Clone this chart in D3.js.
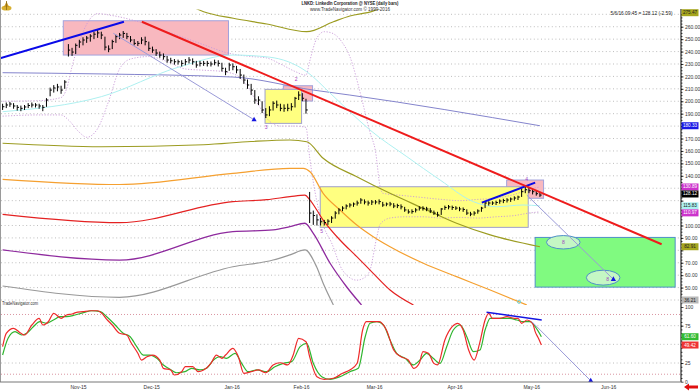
<!DOCTYPE html>
<html><head><meta charset="utf-8">
<script src="https://cdn.jsdelivr.net/npm/d3@7"></script>
<style>body{margin:0;background:#fff}svg{display:block}text{font-family:"Liberation Sans",Arial,sans-serif}</style>
</head><body><svg id="c" width="700" height="391"></svg>
<script>
// ---------- DATA ----------
const closes = [195.6,197,197.8,196.2,195.1,194.3,195.4,196.6,197,197,
196.2,195.1,201,209,210.7,211.5,209,215.5,241.2,239.6,
245,247.7,249.3,250.9,252.5,254,255,253.3,243.6,242,
248,252,253.3,254.6,252,249.3,246.6,246.6,249.3,248,
242.6,241.2,238.8,237.2,235.9,233.2,232.6,231.8,231.8,230.5,
231.8,233.2,231.8,229.2,230.5,230.5,230.5,230,231,230.5,
226.5,223.8,229.2,227.8,225.2,221.1,217.1,213.1,209,201,
201,193,189,193,198.4,197,194.3,194.3,194.3,195.6,
202.4,205,202.4,193,110,108,104.5,103,102.4,103.5,
106,110,112.5,114,115.7,116.5,117.3,118.1,120.5,118.9,
118.1,118.9,118.9,119.2,116.5,117.3,117.3,115.7,116,115,
112.5,110.9,111.2,112.5,114,113.8,113.3,111.7,110,108.5,
113.3,114.5,115,114.5,114,113.3,112.9,110,109.2,110,
111.7,114,118.1,118.1,118.1,118.5,119.7,120.1,120.5,121.3,
122.1,122.9,127.2,128.8,128,127.2,125.6,124.5];
const highs = [198,199,199.5,198.5,197,196.5,197,198.5,199,198.5,
198,197,202.5,211,213,214,212.5,217,246,243,
246.5,249.5,251.5,252.5,254,256,257.5,256,252,245,
249.5,253.5,255,256.5,255,252.5,250,248.5,251.5,252,
248,244,242,240,238.5,236.5,235,234,233.5,233,
234,235.5,234.5,232.5,232.5,232.5,232.5,232,233.5,233,
231,227,231,230.5,228.5,226,221.5,217.5,214,209,
204,200,194.5,196,200,200.5,198,197.5,198,198.5,
203.5,208,206.5,202,127,112,109,106,104.5,105,
107.5,111.5,114,115.5,117,118,118.5,120,122,121,
120,120.5,120.5,121,119,118.5,119,118,117.5,117,
115,113,113,114,115.5,115.5,115,114,112,111,
114,116,116.5,116,115.5,115,114.5,113,111,111.5,
113,115,119.5,119.5,119.5,120,121,121.5,122,122.5,
123.5,124,130,131,130.5,129.5,128,127];
const lows = [193,194.5,195.5,194,192.5,192,193,194.5,195,195,
194,192,195.5,204,207,208,206,210,236,236.5,
238,243,245,247,248,250,251,250,241,239.5,
242,247,250,251,250,247.5,245,244.5,246,245,
240.5,239,236.5,235,233.5,231,230.5,229.5,229.5,228,
229,230.5,229.5,227,228,228.5,228,228,229,228,
224,221,224.5,225,222.5,218,214,210,205,198,
197,190.5,186.5,188,192.5,194.5,192,191.5,192,192.5,
195,201,200,190,102,100.5,100,100,100,100.5,
102,105.5,109,111.5,113,114.5,115,116,117.5,117,
116,116.5,117,117,115,115.5,115.5,114,114,113,
111,109.5,109.5,110.5,112,112,111.5,110,108.5,107,
108.5,112.5,113,112.5,112.5,111.5,111,108.5,107.5,108,
109.5,111,114,116,116.5,116.5,117.5,118,118.5,119,
120,120.5,123,126,126,125,124,123];

// month ticks: bar index of first trading day of each month
const monthTicks = [19,39,61,80,100,122,143,164];
const monthLabels = ["Nov-15","Dec-15","Jan-16","Feb-16","Mar-16","Apr-16","May-16","Jun-16"];
const priceTicks = [40,50,60,70,80,90,100,110,120,130,140,150,160,170,180,190,200,210,220,230,240,250,260,270];
const stochTicks = [0,25,50,75,100];

// indicator lines as [bar, price]
const oliveUpper = [[48,282],[55,272.1],[63.1,266.8],[72.3,262.2],[83.2,256],[90.5,264],[95,268.6],[101.3,272.6],[108,282]];
const oliveLower = [[0,166.2],[27,163.4],[55,165],[68,167.6],[78.6,168.8],[83.2,167.4],[87.7,154.1],[96.9,139.3],[106,125.9],[115.1,113.8],[124.2,101.8],[133.4,92.4],[147,82.9]];
const orangeBand = [[0,137.2],[32,133],[63,142],[78.6,146],[82.3,146],[84.1,143.3],[87.7,125.9],[92.3,112.5],[96.9,100.4],[101.4,91],[106,82.9],[115.1,69.6],[124.2,58.8],[133.4,48.1],[143.4,36]];
const redBand = [[0,109],[32,102.3],[63,119.2],[72.3,120.8],[78.6,123.2],[82.7,124.5],[84.1,120.5],[87.7,104.4],[92.3,88.3],[96.9,74.9],[101.4,61.5],[106,48.1],[112.4,36]];
const purpleBand = [[0,80.3],[32,72.2],[63,95],[74,96.4],[78.6,99],[82.7,101.8],[85,93.7],[89.6,69.6],[94.1,50.7],[98.2,36]];
const grayBand = [[0,51.3],[32,42.2],[63,66.8],[74,72.2],[78.6,76.3],[82.7,80.3],[85.9,66.8],[87.7,53.5],[90.5,36]];
const maSlow = [[0,223],[27,222],[63,219.5],[85,209],[95,205],[147,180.3]];
const maFast = [[0,191.6],[27,203.7],[48.5,227.8],[63,237.2],[73,235.5],[83.2,223.8],[89.6,206.6],[95,191.5],[100.5,176.9],[110.6,155.4],[119.7,136.6],[128.8,119.2],[135.2,115.1],[142.4,116.5],[147,115.8]];
const bbUpper = [[0,200],[10,200.5],[16,203],[17.5,210],[19,228],[21,248],[23,262],[26,270.5],[30,269],[36,265],[45,256],[54,246.6],[62,238.6],[68,236],[72,235],[76,230],[80,224],[83,221],[84,232],[86,251],[88,256],[90,255],[93,247],[95,236],[98,205],[100.5,175],[102,160],[103.3,131],[104,126],[110,124],[115,122.5],[120,121],[125,120],[130,121],[135,122],[140,125],[144,129],[147,131]];
const bbLower = [[0,188],[10,189],[16,189],[18,185],[21,175],[23,171],[26,178],[29,200],[32,226],[35,234],[40,236],[45,232],[50,226],[55,225],[60,224],[64,221],[67,212],[70,197],[73,184],[76,180],[80,180],[83,179],[84,155],[86,119],[88,98],[90,86],[93,64],[96.9,56],[99,58],[100.5,64],[102.4,91],[103.3,101],[106,106],[110,107],[115,107],[120,106],[125,106.5],[130,106],[135,107],[140,108],[144,110],[147,111]];

// stochastic [bar, value]
const stochK = [[0,46.9],[1,64.8],[3,71.5],[5,64.8],[6,62.5],[8,75.9],[10,84.9],[11,75.9],[12.5,80.3],[14,91.6],[16,84.9],[17.5,89.3],[19,90.6],[20,92.4],[22,93.7],[24,95],[26,95],[27,92.4],[28.5,83.5],[30,75.9],[32,64.8],[34,62.5],[35,53.5],[37,38],[38,29],[39.5,33.5],[41,35.7],[43,29],[44,17.9],[46,15.7],[47,9],[49,13.4],[50,20.1],[52,20.1],[53.5,13.4],[55,15.7],[57,24.6],[58.5,35.7],[60,31.3],[61,35.7],[63,44.7],[64.5,33.5],[66,11.2],[68,13.4],[70,15.7],[72,12],[74,22.4],[76,25.4],[78,22.4],[79.5,35.7],[81,58.1],[83,53.5],[84,33.5],[86,6.7],[88,3.2],[90.5,4.6],[93,11.2],[95,15.7],[97,24.6],[98.5,69.2],[99.5,80.3],[101.5,80.3],[103,80.3],[105,69.2],[107,42.4],[109,33.5],[111,29],[112.5,17.9],[114,24.6],[115,40.2],[116.5,38],[118,24.6],[119,22.4],[121,55.8],[123,73.6],[124.5,78.2],[126,69.2],[127.5,42.4],[129,29],[130.5,51.4],[132,82.6],[133,91.6],[134,84.9],[136,84.9],[138,87],[140,84.9],[141,84.9],[142,78.2],[143.5,82.6],[145,78.2],[145.7,67],[146.6,58.1],[147.4,49.1]];
const stochD = [[0,35.7],[1.5,58.1],[3.4,67],[5.2,62.5],[6.6,64.8],[8.4,73.6],[10.2,80.3],[12,78.2],[13.9,82.6],[15.7,87],[17.5,87],[19.8,89.3],[22.1,92.4],[24.4,95],[26.7,93.7],[28.5,87],[30.8,75.9],[33,64.8],[34.9,60.2],[36.7,46.9],[38.5,35.7],[40.3,35.7],[42.2,31.3],[44,22.4],[45.8,16.6],[47.6,12],[49.9,13.4],[51.7,17.9],[54,15.7],[55.8,17.9],[57.7,29],[59.5,33.5],[61.3,31.3],[63.6,38],[65.4,24.6],[67.2,13.4],[69.5,15.7],[72.3,13.4],[74.5,20.1],[76.8,24.6],[79.1,26.8],[81.4,46.9],[83.2,51.4],[85,24.6],[87.3,6.7],[89.6,3.2],[92.3,6.7],[95,13.4],[97.3,17.9],[99.2,60.2],[100.5,78.2],[102.4,80.3],[104.2,75.9],[106,55.8],[107.8,38],[110.1,31.3],[112.4,22.4],[114.2,29],[116,38],[117.8,31.3],[119.7,24.6],[121.5,46.9],[123.3,69.2],[125.2,75.9],[127,60.2],[128.8,40.2],[130.6,42.4],[132,69.2],[133.4,84.9],[135.2,84.9],[137,84.9],[138.8,84.9],[140.7,82.6],[142.5,80.3],[144.3,80.3],[145.7,73.6],[147.4,60.2]];

// annotations in data units
const pinkBoxes = [[16.6,61.8,237.2,264.8],[76.8,84.8,200.2,212.5],[137.9,148,121.9,136.6]];
const yellowBoxes = [[71.8,81.8,182.2,209.6],[86.9,143.8,98.5,131.2]];
const greenBoxes = [[145.7,184,50.4,90.4]];
const targetEllipses = [[153.4,86.5,4.6,5.4],[164.3,58,4.6,6]];
const blueTrends = [[[-0.7,234.6],[33.2,264]],[[131.1,118.4],[145.7,134.5]]];
const redTrends = [[[38.1,264],[180.3,84.9]]];
const arrowLines = [[[30.3,254.7],[68.8,185.1]],[[143.4,124.5],[167.1,56.7]]];
const stochTrend = [[132.4,92.9],[147.5,82.6]];
const stochArrow = [[144.8,80.3],[160.9,1.3]];
const waveLabels = [["2",80.3,217],["3",72.1,178.5],["5",87.3,95],["4",143.4,136.5],["8",153.4,86.5],["8",165.5,56.5]];
const rightLabels = [
  [272,"275.47","#a6a61e","#222"],[180.3,"180.33","#1a1ae6","#fff"],[131,"130.89","#cc33cc","#fff"],
  [128.12,"128.12","#000","#fff"],[115.8,"115.83","#aaf0f0","#222"],[111,"110.97","#cc33cc","#fff"],
  [82.9,"82.91","#a6a61e","#222"],[36,"36.21","#b8b8b8","#222"]];
const stochLabels = [[60.2,"61.60","#33bb33","#fff"],[49.1,"49.42","#ee3333","#fff"]];

// ---------- DRAW ----------
const svg = d3.select("#c");
const x = d3.scaleLinear().domain([0,185.6]).range([2.6,681]);
const y = d3.scaleLinear().domain([36,270]).range([305,14.3]);
const ys = d3.scaleLinear().domain([0,100]).range([381.7,307]);

const defs = svg.append("defs");
defs.append("clipPath").attr("id","cp").append("rect").attr("x",0).attr("y",9.5).attr("width",681).attr("height",295.5);
defs.append("clipPath").attr("id","cs").append("rect").attr("x",0).attr("y",305).attr("width",681).attr("height",77);

// grid
const grid = svg.append("g");
priceTicks.forEach(v=>grid.append("line").attr("x1",1).attr("x2",681).attr("y1",y(v)).attr("y2",y(v))
  .attr("stroke","#adadad").attr("stroke-width",0.8).attr("stroke-dasharray","1,2.6"));
[25,50,75].forEach(v=>grid.append("line").attr("x1",1).attr("x2",681).attr("y1",ys(v)).attr("y2",ys(v))
  .attr("stroke","#adadad").attr("stroke-width",0.8).attr("stroke-dasharray","1,2.6"));
[10,90].forEach(v=>grid.append("line").attr("x1",1).attr("x2",681).attr("y1",ys(v)).attr("y2",ys(v))
  .attr("stroke","#d07a8a").attr("stroke-width",0.8).attr("stroke-dasharray","1,2"));

const P = svg.append("g").attr("clip-path","url(#cp)");
function box(g,b,fill,stroke){
  g.append("rect").attr("x",x(b[0])).attr("y",y(b[3])).attr("width",x(b[1])-x(b[0])).attr("height",y(b[2])-y(b[3]))
   .attr("fill",fill).attr("stroke",stroke).attr("stroke-width",1);
}
pinkBoxes.forEach(b=>box(P,b,"#f8b8bf","#a2a2dc"));
yellowBoxes.forEach(b=>box(P,b,"#ffff80","#a0a0cc"));
greenBoxes.forEach(b=>box(P,b,"#80fa80","#4f8fc8"));

const ln = d3.line().x(d=>x(d[0])).y(d=>y(d[1])).curve(d3.curveMonotoneX);
function path(g,data,color,w,dash){
  const p=g.append("path").attr("d",ln(data)).attr("fill","none").attr("stroke",color).attr("stroke-width",w);
  if(dash) p.attr("stroke-dasharray",dash);
}
path(P,bbUpper,"#c89ad8",0.9,"1.2,1.6");
path(P,bbLower,"#c89ad8",0.9,"1.2,1.6");
path(P,oliveUpper,"#9c9c22",1.2);
path(P,oliveLower,"#9c9c22",1.2);
path(P,orangeBand,"#f5a030",1.2);
path(P,redBand,"#e42222",1.2);
path(P,purpleBand,"#8e2a9e",1.3);
path(P,grayBand,"#999999",1.2);
path(P,maSlow,"#8484cc",1);
path(P,maFast,"#aef0f0",1);

// bars
const bars = P.append("g").attr("stroke","#000").attr("stroke-width",1);
closes.forEach((c,i)=>{
  bars.append("line").attr("x1",x(i)).attr("x2",x(i)).attr("y1",y(highs[i])).attr("y2",y(lows[i]));
  bars.append("line").attr("x1",x(i)).attr("x2",x(i)+1.8).attr("y1",y(c)).attr("y2",y(c));
});

// trendlines
const sl = d3.line().x(d=>x(d[0])).y(d=>y(d[1]));
blueTrends.forEach(t=>P.append("path").attr("d",sl(t)).attr("stroke","#0a0ae8").attr("stroke-width",2).attr("fill","none"));
redTrends.forEach(t=>P.append("path").attr("d",sl(t)).attr("stroke","#ee1c1c").attr("stroke-width",2).attr("fill","none"));
// ellipses
targetEllipses.forEach(e=>P.append("ellipse").attr("cx",x(e[0])).attr("cy",y(e[1]))
  .attr("rx",x(e[0]+e[2])-x(e[0])).attr("ry",y(e[1]-e[3])-y(e[1]))
  .attr("fill","#c4f7c4").attr("stroke","#4f8fc8").attr("stroke-width",1));
function tri(g,px,py){
  g.append("path").attr("d",`M${px},${py-3}L${px+2.6},${py+1.6}L${px-2.6},${py+1.6}Z`).attr("fill","#1515e0");
}
arrowLines.forEach(t=>{
  P.append("path").attr("d",sl(t)).attr("stroke","#9a9ad8").attr("stroke-width",1).attr("fill","none");
  tri(P,x(t[1][0]),y(t[1][1]));
});
// small marker
P.append("circle").attr("cx",x(141.3)).attr("cy",y(38.6)).attr("r",1.6).attr("fill","none").attr("stroke","#6fd0d0").attr("stroke-width",1);
waveLabels.forEach(w=>P.append("text").attr("x",x(w[1])).attr("y",y(w[2])).attr("text-anchor","middle")
  .attr("dominant-baseline","middle").attr("font-size",5).attr("fill","#a040c0").text(w[0]));

// stochastic
const S = svg.append("g").attr("clip-path","url(#cs)");
const sln = d3.line().x(d=>x(d[0])).y(d=>ys(d[1])).curve(d3.curveMonotoneX);
S.append("path").attr("d",sln(stochD)).attr("fill","none").attr("stroke","#2fb52f").attr("stroke-width",1.2);
S.append("path").attr("d",sln(stochK)).attr("fill","none").attr("stroke","#ee2a2a").attr("stroke-width",1.2);
const sst = d3.line().x(d=>x(d[0])).y(d=>ys(d[1]));
S.append("path").attr("d",sst(stochTrend)).attr("stroke","#1515e0").attr("stroke-width",1.5).attr("fill","none");
S.append("path").attr("d",sst(stochArrow)).attr("stroke","#9a9ad8").attr("stroke-width",1).attr("fill","none");
tri(S,x(stochArrow[1][0]),ys(stochArrow[1][1]));

// frame lines
svg.append("line").attr("x1",0.5).attr("x2",0.5).attr("y1",0).attr("y2",382).attr("stroke","#9a9a9a");

// value-label positions (stacked so they do not overlap)
function stackLabels(list,scale,minY,maxY){
  let prev=-1e9;
  return list.slice().sort((a,b)=>b[0]-a[0]).map(l=>{
    let yy=Math.max(minY,Math.min(maxY,scale(l[0])));
    if(yy<prev+7) yy=prev+7;
    prev=yy;
    return {y:yy,l:l};
  });
}
const rPos = stackLabels(rightLabels,y,12.7,300);
const sPos = stackLabels(stochLabels,ys,310,378);
const coveredYs = rPos.concat(sPos).map(p=>p.y);

// axes
const ax = svg.append("g").attr("transform","translate(681,0)")
  .call(d3.axisRight(y).tickValues(priceTicks).tickFormat(d3.format(".2f")).tickSize(2.5).tickPadding(1.5));
ax.select(".domain").attr("d","M0,9V305");
const minor = d3.range(37.5,272,2.5);
svg.append("g").attr("transform","translate(681,0)").call(d3.axisRight(y).tickValues(minor).tickFormat("").tickSize(1.5)).select(".domain").remove();
const axs = svg.append("g").attr("transform","translate(681,0)")
  .call(d3.axisRight(ys).tickValues(stochTicks).tickFormat(d3.format("d")).tickSize(2.5).tickPadding(1.5));
axs.select(".domain").attr("d","M0,305V382");
svg.append("g").attr("transform","translate(681,0)").call(d3.axisRight(ys).tickValues(d3.range(5,100,5)).tickFormat("").tickSize(1.5)).select(".domain").remove();
svg.selectAll(".tick text").attr("font-size",5).attr("fill","#333").attr("font-family","Liberation Sans, Arial, sans-serif");
svg.selectAll(".tick line").attr("stroke","#000").attr("stroke-width",0.7);
svg.selectAll(".domain").attr("stroke","#000").attr("stroke-width",1);
// tick labels hidden under a value label box (as in the reference)
ax.selectAll(".tick").each(function(d){ if(coveredYs.some(c=>Math.abs(c-y(d))<6.5)) d3.select(this).select("text").remove(); });
axs.selectAll(".tick").each(function(d){ if(coveredYs.some(c=>Math.abs(c-ys(d))<6.5)) d3.select(this).select("text").remove(); });

const bx = svg.append("g").attr("transform","translate(0,382)")
  .call(d3.axisBottom(x).tickValues(monthTicks).tickFormat((d,i)=>monthLabels[i]).tickSize(0).tickPadding(3));
bx.select(".domain").attr("d","M0,0H681").attr("stroke","#777").attr("stroke-width",1);
bx.selectAll(".tick text").attr("font-size",5).attr("fill","#333").attr("dx",6);

// value label boxes
rPos.concat(sPos).forEach(p=>{
  svg.append("rect").attr("x",681.5).attr("y",p.y-3.5).attr("width",17).attr("height",7).attr("fill",p.l[2]);
  svg.append("text").attr("x",690).attr("y",p.y).attr("text-anchor","middle").attr("dominant-baseline","central")
    .attr("font-size",4.6).attr("fill",p.l[3]).text(p.l[1]);
});

// titles
svg.append("text").attr("x",350).attr("y",5).attr("text-anchor","middle").attr("font-size",4.8).attr("font-weight","bold")
  .attr("fill","#222").attr("textLength",97).attr("lengthAdjust","spacingAndGlyphs").text("LNKD: LinkedIn Corporation @ NYSE (daily bars)");
svg.append("text").attr("x",350).attr("y",10.5).attr("text-anchor","middle").attr("font-size",4.6)
  .attr("fill","#333").attr("textLength",80).attr("lengthAdjust","spacingAndGlyphs").text("www.TradeNavigator.com © 1999-2016");
svg.append("text").attr("x",672.5).attr("y",15.2).attr("text-anchor","end").attr("font-size",4.8)
  .attr("fill","#222").attr("textLength",62).attr("lengthAdjust","spacingAndGlyphs").text("5/6/16 09:45 = 128.12 (-2.59)");
svg.append("text").attr("x",2).attr("y",304.5).attr("font-size",4.6).attr("fill","#333")
  .attr("textLength",36).attr("lengthAdjust","spacingAndGlyphs").text("TradeNavigator.com");

// logo
const lg = svg.append("g");
lg.append("ellipse").attr("cx",6.5).attr("cy",8).attr("rx",5).attr("ry",2.6).attr("fill","#d8b030");
lg.append("path").attr("d","M4,7 L6.5,1.5 L9,7 Z").attr("fill","#c89820");
lg.append("line").attr("x1",6.5).attr("x2",6.5).attr("y1",1).attr("y2",10).attr("stroke","#8a6a10").attr("stroke-width",0.8);

// red arrow bottom right
svg.append("path").attr("d","M684,387 L689,383.5 L689,385.6 L698,385.6 L698,388.4 L689,388.4 L689,390.5 Z").attr("fill","#e01010");
</script></body></html>
